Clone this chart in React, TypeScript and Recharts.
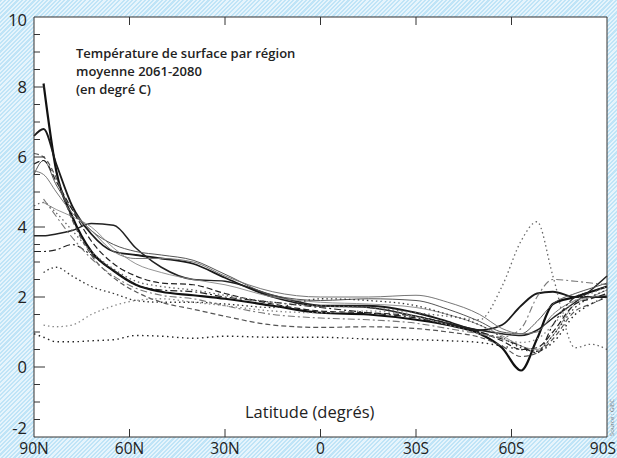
import React from 'react';
import { LineChart, Line, XAxis, YAxis, ReferenceArea } from 'recharts';

// latitude, measured in degrees from the north pole (0 = 90N, 180 = 90S)
const LAT = [0, 3, 7, 12, 18, 25, 32, 40, 50, 60, 75, 90, 105, 120, 130, 140, 147, 153, 158, 163, 170, 175, 180];
const X_TICKS = [0, 30, 60, 90, 120, 150, 180];
const X_LABELS = ['90N', '60N', '30N', '0', '30S', '60S', '90S'];
const Y_TICKS = [-2, -1.5, -1, -0.5, 0, 0.5, 1, 1.5, 2, 2.5, 3, 3.5, 4, 4.5, 5, 5.5, 6, 6.5, 7, 7.5, 8, 8.5, 9, 9.5, 10];

// one series per model (°C)
const modelA = [null, 8.1, 5.6, 4.3, 3.3, 2.75, 2.35, 2.15, 2.05, 1.95, 1.75, 1.55, 1.5, 1.35, 1.2, 0.95, 0.55, -0.1, 0.8, 1.8, 2.0, 2.15, 2.3];
const modelB = [6.6, 6.8, 5.8, 4.6, 3.8, 3.3, 3.2, 3.1, 2.95, 2.55, 2.0, 1.75, 1.75, 1.55, 1.3, 1.05, 1.2, 1.75, 2.1, 2.15, 2.0, 2.0, 2.0];
const modelC = [3.75, 3.75, 3.8, 3.9, 4.1, 4.05, 3.4, 2.85, 2.5, 2.45, 2.05, 1.75, 1.7, 1.45, 1.25, 1.05, 0.95, 0.9, 1.05, 1.4, 1.85, 2.2, 2.6];
const modelD = [5.5, 5.9, 5.2, 4.5, 3.9, 3.5, 3.3, 3.2, 3.05, 2.65, 2.05, 1.9, 1.95, 1.9, 1.65, 1.3, 1.0, 0.95, 1.3, 1.8, 2.1, 2.25, 2.4];
const modelE = [5.6, 5.5, 5.0, 4.4, 3.9, 3.3, 3.1, 3.1, 3.0, 2.6, 2.15, 2.0, 2.0, 2.05, 1.85, 1.5, 1.1, 0.95, 1.0, 1.5, 1.9, 2.0, 2.05];
const modelF = [null, 4.7, 4.5, 4.3, 4.0, 3.4, 2.95, 2.7, 2.5, 2.35, 2.0, 1.85, 1.8, 1.7, 1.5, 1.2, 0.9, 0.6, 0.5, 0.9, 1.8, 2.0, 2.2];
const modelG = [3.3, 3.3, 3.35, 3.5, 3.2, 2.75, 2.35, 2.2, 2.15, 2.0, 1.85, 1.7, 1.55, 1.4, 1.2, 1.0, 0.8, 0.6, 0.4, 1.2, 2.0, 2.15, 2.3];
const modelH = [5.8, 5.9, 5.3, 4.5, 3.6, 2.95, 2.6, 2.4, 2.35, 2.1, 1.8, 1.6, 1.55, 1.45, 1.25, 1.0, 0.75, 0.5, 0.55, 1.0, 1.8, 1.95, 2.1];
const modelI = [6.1, 6.0, 5.4, 4.2, 3.2, 2.55, 2.15, 1.85, 1.65, 1.45, 1.2, 1.13, 1.15, 1.1, 1.0, 0.85, 0.6, 0.3, 0.4, 0.8, 1.6, 1.8, 2.0];
const modelJ = [null, 2.7, 2.85, 2.6, 2.3, 2.1, 1.9, 1.85, 1.85, 1.8, 1.7, 1.95, 1.9, 1.75, 1.5, 1.2, 0.85, 0.55, 0.45, 0.9, 1.7, 2.0, 2.2];
const modelK = [null, 1.2, 1.15, 1.2, 1.5, 1.75, 1.9, 1.95, 1.85, 1.75, 1.6, 1.55, 1.6, 1.45, 1.2, 0.95, 0.8, 0.7, 0.8, 1.2, 1.9, 2.1, 2.3];
const modelL = [0.95, 0.85, 0.72, 0.72, 0.75, 0.78, 0.9, 0.88, 0.82, 0.88, 0.85, 0.85, 0.8, 0.78, 0.75, 0.7, 0.6, 0.5, 0.45, 0.7, 1.5, 1.8, 2.0];
const modelM = [4.6, 4.7, 4.4, 3.9, 3.3, 2.8, 2.45, 2.3, 2.2, 2.05, 1.85, 1.75, 1.7, 1.55, 1.45, 1.35, 2.3, 3.6, 4.15, 2.6, 0.55, 0.65, 0.5];
const modelN = [null, 4.8, 4.3, 3.7, 3.1, 2.6, 2.25, 2.05, 1.95, 1.75, 1.5, 1.4, 1.35, 1.25, 1.1, 0.95, 0.85, 1.1, 2.0, 2.5, 2.45, 2.4, 2.35];

const SERIES = [
  { key: 'A', values: modelA, color: '#111', width: 2.2, dash: undefined },
  { key: 'B', values: modelB, color: '#1a1a1a', width: 1.8, dash: undefined },
  { key: 'C', values: modelC, color: '#222', width: 1.5, dash: undefined },
  { key: 'D', values: modelD, color: '#555', width: 1, dash: undefined },
  { key: 'E', values: modelE, color: '#777', width: 1, dash: undefined },
  { key: 'F', values: modelF, color: '#888', width: 0.9, dash: undefined },
  { key: 'G', values: modelG, color: '#222', width: 1.2, dash: '7 3 2 3' },
  { key: 'H', values: modelH, color: '#222', width: 1.2, dash: '6 3' },
  { key: 'I', values: modelI, color: '#555', width: 1.2, dash: '5 3' },
  { key: 'J', values: modelJ, color: '#333', width: 1.3, dash: '1.5 3' },
  { key: 'K', values: modelK, color: '#888', width: 1.3, dash: '1.5 3' },
  { key: 'L', values: modelL, color: '#222', width: 1.4, dash: '1.5 3.5' },
  { key: 'M', values: modelM, color: '#666', width: 1.3, dash: '1.5 3' },
  { key: 'N', values: modelN, color: '#777', width: 1.1, dash: '7 3 2 3' },
];

const data = LAT.map((d, i) => {
  const row: Record<string, number | null> = { d };
  SERIES.forEach((s) => { row[s.key] = s.values[i]; });
  return row;
});

const FONT = '"Open Sans", "DejaVu Sans", sans-serif';
const AXIS = '#333';

const isMajor = (v: number) => Number.isInteger(v) && v % 2 === 0;

const LeftTick = ({ x, y, payload }: any) => {
  const v = payload.value;
  const ax = x + 7;
  const edge = v === -2 || v === 10;
  // the corner labels sit a little inside the frame, as in the original
  const shift = v === -2 ? -9 : v === 10 ? 3 : 0;
  return (
    <g>
      {!edge && <line x1={ax} x2={ax + (isMajor(v) ? 11 : 6)} y1={y} y2={y} stroke={AXIS} strokeWidth={1} />}
      {isMajor(v) && (
        <text x={x} y={y + shift} dy="0.36em" textAnchor="end" fontSize={16.5} fontFamily={FONT} fill="#222">
          {v}
        </text>
      )}
    </g>
  );
};

const RightTick = ({ x, y, payload }: any) => {
  const v = payload.value;
  if (v === -2 || v === 10) return <g />;
  return <line x1={x - (isMajor(v) ? 10 : 5)} x2={x} y1={y} y2={y} stroke={AXIS} strokeWidth={1} />;
};

const BottomTick = ({ x, y, payload }: any) => {
  const v = payload.value;
  const edge = v === 0 || v === 180;
  const last = v === 180;
  return (
    <g>
      {!edge && <line x1={x} x2={x} y1={y} y2={y - 8} stroke={AXIS} strokeWidth={1} />}
      <text
        x={last ? x + 9 : x}
        y={y + 16.5}
        textAnchor={last ? 'end' : 'middle'}
        fontSize={15.5}
        fontFamily={FONT}
        fill="#222"
      >
        {X_LABELS[X_TICKS.indexOf(v)]}
      </text>
    </g>
  );
};

const TopTick = ({ x, y, payload }: any) => {
  const v = payload.value;
  if (v === 0 || v === 180) return <g />;
  return <line x1={x} x2={x} y1={y} y2={y + 8} stroke={AXIS} strokeWidth={1} />;
};

export default function App() {
  return (
    <div
      style={{
        position: 'absolute',
        left: 0,
        top: 0,
        width: 617,
        height: 458,
        overflow: 'hidden',
        background: 'repeating-linear-gradient(135deg, #bfe4f7 0px, #bfe4f7 1.5px, #e6f4fc 1.5px, #e6f4fc 3px)',
      }}
    >
      <LineChart width={617} height={458} data={data} margin={{ top: 0, right: 0, bottom: 0, left: 0 }}>
        <XAxis
          xAxisId="bottom"
          dataKey="d"
          type="number"
          domain={[0, 180]}
          ticks={X_TICKS}
          height={21}
          tickSize={0}
          tickMargin={0}
          tickLine={false}
          axisLine={{ stroke: AXIS, strokeWidth: 1 }}
          tick={<BottomTick />}
          interval={0}
        />
        <XAxis
          xAxisId="top"
          orientation="top"
          dataKey="d"
          type="number"
          domain={[0, 180]}
          ticks={X_TICKS}
          height={17}
          tickSize={0}
          tickMargin={0}
          tickLine={false}
          axisLine={{ stroke: AXIS, strokeWidth: 1 }}
          tick={<TopTick />}
          interval={0}
        />
        <YAxis
          yAxisId="left"
          type="number"
          domain={[-2, 10]}
          ticks={Y_TICKS}
          width={34}
          tickSize={0}
          tickMargin={7}
          tickLine={false}
          axisLine={{ stroke: AXIS, strokeWidth: 1 }}
          tick={<LeftTick />}
          interval={0}
        />
        <YAxis
          yAxisId="right"
          orientation="right"
          type="number"
          domain={[-2, 10]}
          ticks={Y_TICKS}
          width={10}
          tickSize={0}
          tickMargin={0}
          tickLine={false}
          axisLine={{ stroke: AXIS, strokeWidth: 1 }}
          tick={<RightTick />}
          interval={0}
        />
        <ReferenceArea xAxisId="bottom" yAxisId="left" x1={0} x2={180} y1={-2} y2={10} fill="#fff" fillOpacity={1} stroke="none" />
        {SERIES.map((s) => (
          <Line
            key={s.key}
            xAxisId="bottom"
            yAxisId="left"
            dataKey={s.key}
            type="monotone"
            stroke={s.color}
            strokeWidth={s.width}
            strokeDasharray={s.dash}
            dot={false}
            activeDot={false}
            isAnimationActive={false}
          />
        ))}
      </LineChart>
      <svg width={617} height={458} style={{ position: 'absolute', left: 0, top: 0, pointerEvents: 'none' }}>
        <g fontFamily={FONT} fontSize={13} fontWeight={600} fill="#222">
          <text x={76} y={58}>Température de surface par région</text>
          <text x={76} y={76}>moyenne 2061-2080</text>
          <text x={76} y={94}>(en degré C)</text>
        </g>
        <text x={245} y={418} fontFamily={FONT} fontSize={16.5} fill="#222">
          Latitude (degrés)
        </text>
        <text x={614} y={436} transform="rotate(-90 614 436)" fontFamily={FONT} fontSize={6} fill="#777">
          Source : GIEC
        </text>
      </svg>
    </div>
  );
}
